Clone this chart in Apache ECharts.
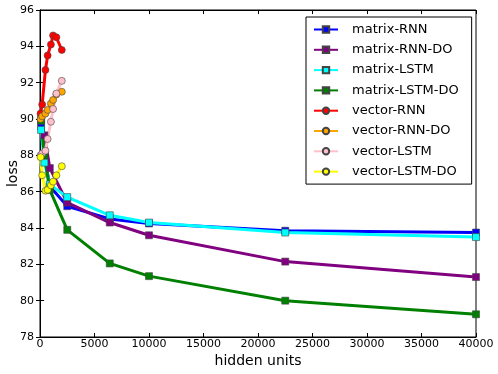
<!DOCTYPE html>
<html>
<head>
<meta charset="utf-8">
<script src="https://cdn.jsdelivr.net/npm/echarts@6/dist/echarts.min.js"></script>
<style>
  html, body { margin: 0; padding: 0; background: #fff; }
  #chart { width: 498px; height: 374px; }
</style>
</head>
<body>
<div id="chart"></div>
<script>
// hidden units for matrix models (square sizes) and vector models
var matrixUnits = [100, 400, 900, 2500, 6400, 10000, 22500, 40000];
var vectorUnits = [50, 200, 500, 700, 1000, 1200, 1500, 2000];

var matrixRNN = [89.6, 88.0, 86.3, 85.2, 84.5, 84.25, 83.85, 83.75];
var matrixRNNDO = [90.0, 89.1, 87.3, 85.4, 84.3, 83.6, 82.15, 81.3];
var matrixLSTM = [89.4, 87.6, 86.4, 85.7, 84.7, 84.3, 83.75, 83.5];
var matrixLSTMDO = [89.9, 88.0, 86.1, 83.9, 82.05, 81.35, 80.0, 79.25];

var vectorRNN = [90.3, 90.8, 92.7, 93.5, 94.1, 94.6, 94.5, 93.8];
var vectorRNNDO = [90.0, 90.15, 90.3, 90.5, 90.85, 91.05, 91.35, 91.5];
var vectorLSTM = [88.0, 88.1, 88.25, 88.9, 89.85, 90.55, 91.4, 92.1];
var vectorLSTMDO = [87.9, 86.9, 86.05, 86.1, 86.35, 86.55, 86.9, 87.4];

var yTicks = [78, 80, 82, 84, 86, 88, 90, 92, 94, 96];

function pairs(xs, ys) {
  return xs.map(function (x, i) { return [x, ys[i]]; });
}

(function () {
  var myChart = echarts.init(document.getElementById('chart'));

  function mkSeries(name, color, symbol, xs, ys) {
    return {
      name: name,
      type: 'line',
      xAxisIndex: 0,
      yAxisIndex: 0,
      data: pairs(xs, ys),
      symbol: symbol === 'square' ? 'rect' : 'circle',
      symbolSize: 7,
      showSymbol: true,
      animation: false,
      lineStyle: { color: color, width: 3 },
      itemStyle: { color: color, borderColor: '#444', borderWidth: 0.6 }
    };
  }

  var axisFont = { color: '#000', fontSize: 11, fontFamily: 'DejaVu Sans' };

  var option = {
    backgroundColor: '#fff',
    animation: false,
    grid: {
      left: 40,
      right: 22,
      top: 10,
      bottom: 37,
      outerBoundsMode: 'none',
      containLabel: false,
      show: true,
      borderColor: '#000',
      borderWidth: 1
    },
    legend: {
      orient: 'vertical',
      left: 306,
      top: 17,
      padding: [6, 13, 6, 7],
      itemWidth: 24,
      itemHeight: 8,
      itemGap: 7.3,
      backgroundColor: '#fff',
      borderColor: '#000',
      borderWidth: 1,
      textStyle: {
        color: '#000',
        fontSize: 13,
        fontFamily: 'DejaVu Sans',
        padding: [0, 0, 0, 9]
      }
    },
    xAxis: [
      {
        type: 'value',
        min: 0,
        max: 40000,
        interval: 5000,
        name: 'hidden units',
        nameLocation: 'middle',
        nameGap: 17,
        nameMoveOverlap: false,
        nameTextStyle: { color: '#000', fontSize: 14, fontFamily: 'DejaVu Sans' },
        axisLine: { show: true, lineStyle: { color: '#000' } },
        axisTick: { show: true, inside: true, length: 4, lineStyle: { color: '#000' } },
        axisLabel: Object.assign({
          margin: 2,
          formatter: function (v) { return String(v); }
        }, axisFont),
        splitLine: { show: false }
      },
      {
        type: 'value',
        position: 'top',
        min: 0,
        max: 40000,
        interval: 5000,
        axisLine: { show: true, lineStyle: { color: '#000' } },
        axisTick: { show: true, inside: true, length: 4, lineStyle: { color: '#000' } },
        axisLabel: { show: false },
        splitLine: { show: false }
      }
    ],
    yAxis: [
      {
        type: 'value',
        min: 78,
        max: 96,
        interval: 2,
        name: 'loss',
        nameLocation: 'middle',
        nameGap: 20,
        nameRotate: 90,
        nameMoveOverlap: false,
        nameTextStyle: { color: '#000', fontSize: 14, fontFamily: 'DejaVu Sans' },
        axisLine: { show: true, lineStyle: { color: '#000' } },
        axisTick: { show: true, inside: true, length: 4, lineStyle: { color: '#000' } },
        axisLabel: Object.assign({
          margin: 6,
          formatter: function (v) { return yTicks.indexOf(v) >= 0 ? String(v) : ''; }
        }, axisFont),
        splitLine: { show: false }
      },
      {
        type: 'value',
        position: 'right',
        min: 78,
        max: 96,
        interval: 2,
        axisLine: { show: true, lineStyle: { color: '#000' } },
        axisTick: { show: true, inside: true, length: 4, lineStyle: { color: '#000' } },
        axisLabel: { show: false },
        splitLine: { show: false }
      }
    ],
    series: [
      mkSeries('matrix-RNN', '#0000ff', 'square', matrixUnits, matrixRNN),
      mkSeries('matrix-RNN-DO', '#800080', 'square', matrixUnits, matrixRNNDO),
      mkSeries('matrix-LSTM', '#00ffff', 'square', matrixUnits, matrixLSTM),
      mkSeries('matrix-LSTM-DO', '#008000', 'square', matrixUnits, matrixLSTMDO),
      mkSeries('vector-RNN', '#ff0000', 'circle', vectorUnits, vectorRNN),
      mkSeries('vector-RNN-DO', '#ffa500', 'circle', vectorUnits, vectorRNNDO),
      mkSeries('vector-LSTM', '#ffc0cb', 'circle', vectorUnits, vectorLSTM),
      mkSeries('vector-LSTM-DO', '#ffff00', 'circle', vectorUnits, vectorLSTMDO)
    ]
  };

  myChart.setOption(option);
})();
</script>
</body>
</html>
